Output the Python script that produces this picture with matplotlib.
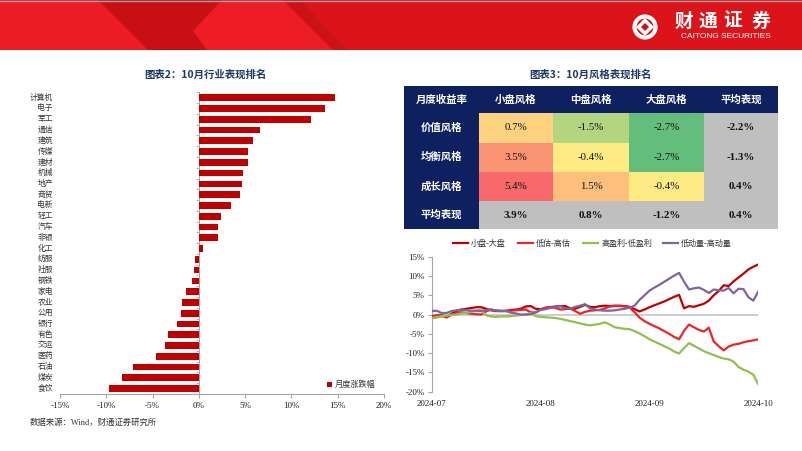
import matplotlib
matplotlib.use('Agg')
import matplotlib.pyplot as plt
import numpy as np
from matplotlib.patches import Rectangle, Polygon, Circle
from matplotlib.lines import Line2D
from matplotlib.transforms import blended_transform_factory

# ---------------- data ----------------
industries = ['计算机', '电子', '军工', '通信', '建筑', '传媒', '建材', '机械', '地产', '商贸',
              '电新', '轻工', '汽车', '非银', '化工', '纺服', '社服', '钢铁', '家电', '农业',
              '公用', '银行', '有色', '交运', '医药', '石油', '煤炭', '食饮']
industry_returns = [14.7, 13.6, 12.1, 6.6, 5.8, 5.3, 5.3, 4.8, 4.7, 4.4,
                    3.5, 2.4, 2.1, 2.1, 0.45, -0.45, -0.5, -0.76, -1.34, -1.84,
                    -1.95, -2.4, -3.3, -3.65, -4.6, -7.1, -8.3, -9.7]
bar_xticks = [-15, -10, -5, 0, 5, 10, 15, 20]

table_cols = ['月度收益率', '小盘风格', '中盘风格', '大盘风格', '平均表现']
table_rows = ['价值风格', '均衡风格', '成长风格', '平均表现']
table_values = [[0.7, -1.5, -2.7, -2.2],
                [3.5, -0.4, -2.7, -1.3],
                [5.4, 1.5, -0.4, 0.4],
                [3.9, 0.8, -1.2, 0.4]]

line_names = ['小盘-大盘', '低估-高估', '高盈利-低盈利', '低动量-高动量']
small_minus_large = [-0.9, -0.7, -0.4, -0.6, 0.2, 0.9, 1.3, 1.5, 1.7, 1.9, 1.9, 1.5, 1.1, 0.9, 0.9, 0.9, 1.2,
                     1.3, 1.5, 2.1, 2.2, 1.5, 1.4, 1.7, 1.9, 2.1, 2.2, 2.2, 1.6, 1.5, 2.0, 2.5, 2.0, 1.9,
                     2.2, 2.3, 2.2, 2.3, 2.3, 2.2, 2.0, 1.4, 0.8, 1.3, 1.9, 2.4, 2.9, 3.4, 4.0, 4.6, 5.1,
                     1.6, 2.2, 2.0, 2.4, 2.8, 3.6, 5.0, 6.1, 7.6, 7.4, 8.6, 9.6, 10.6, 11.7, 12.4, 13.0]
low_minus_high_val = [-0.4, -0.2, 0.0, -0.8, 0.0, 0.4, 0.6, 0.4, 0.2, 0.1, 0.0, 0.8, 1.3, 1.0, 0.9, 1.0, 1.0,
                      1.1, 1.2, 1.3, 0.6, 0.5, 1.3, 1.8, 2.0, 1.7, 1.3, 1.4, 1.5, 0.9, 0.2, 0.7, 1.0, 1.1,
                      1.2, 1.6, 2.1, 2.2, 2.2, 2.1, 1.8, 0.6, -0.8, -1.7, -2.4, -3.0, -3.6, -4.3, -5.0, -5.8, -6.4,
                      -4.2, -2.6, -3.3, -4.0, -4.4, -3.4, -7.0, -8.2, -9.3, -8.3, -7.8, -7.6, -7.2, -6.9, -6.7, -6.4]
high_minus_low_prof = [-0.9, -0.7, -0.4, -0.3, -0.1, 0.0, 0.3, 0.4, 0.7, 1.0, 1.2, -0.2, -0.5, -0.6, -0.5, -0.5, -0.4,
                       -0.3, -0.1, 0.0, 0.4, -0.4, -0.6, -0.7, -0.8, -0.9, -1.1, -1.4, -1.7, -2.0, -2.3, -2.6, -2.8, -2.6,
                       -2.4, -2.0, -2.6, -3.3, -3.5, -3.7, -3.8, -4.3, -4.9, -5.6, -6.4, -7.0, -7.6, -8.2, -8.8, -9.6, -10.1,
                       -8.7, -7.4, -8.1, -8.8, -9.5, -10.0, -10.5, -11.0, -11.4, -11.6, -12.2, -13.6, -14.3, -14.8, -15.6, -18.1]
low_minus_high_mom = [0.9, 1.0, 0.4, 0.4, 0.9, 1.1, 1.3, 1.1, 1.0, 1.0, 0.9, 1.2, 1.3, 1.1, 1.0, 0.9, 0.5,
                      0.3, 0.0, 0.0, 0.1, 0.6, 1.2, 1.4, 1.7, 1.9, 2.2, 1.6, 1.5, 2.0, 2.3, 2.7, 1.6, 1.3,
                      1.1, 1.0, 1.0, 1.1, 1.3, 1.5, 1.8, 2.3, 3.8, 5.0, 6.2, 7.0, 7.7, 8.5, 9.3, 10.1, 10.8,
                      8.5, 6.5, 6.8, 7.0, 6.4, 5.6, 6.5, 6.3, 6.2, 6.9, 5.5, 6.7, 6.6, 4.5, 3.6, 6.0]
date_tick_pos = [0, 22, 44, 66]
date_tick_labels = ['2024-07', '2024-08', '2024-09', '2024-10']
line_yticks = [-20, -15, -10, -5, 0, 5, 10, 15]

# ---------------- style ----------------
CJK = 'Noto Sans CJK SC'
SERIF = ['Liberation Serif', 'Noto Sans CJK SC']
NAVY = '#0E2060'
TITLE_C = '#1F3864'
GRAY_AX = '#A6A6A6'
line_colors = ['#C00000', '#E8262B', '#92C050', '#8064A2']

W, H = 802, 451
fig = plt.figure(figsize=(W / 100, H / 100), dpi=100)
fig.patch.set_facecolor('white')

ax_bg = fig.add_axes([0, 0, 1, 1], zorder=0)
ax_bg.set_axis_off()

# ---------------- banner ----------------
ax_bg.add_patch(Rectangle((0, 0), W, 50, color='#DC1419', lw=0))
ax_bg.add_patch(Polygon([(0, 0), (98, 0), (148, 50), (0, 50)], closed=True, color='#EC1C24', lw=0))
ax_bg.add_patch(Polygon([(98, 0), (222, 0), (193, 31), (207, 50), (148, 50)], closed=True, color='#C80F15', lw=0))
ax_bg.add_patch(Polygon([(222, 0), (283, 0), (333, 50), (207, 50), (193, 31)], closed=True, color='#EE1C24', lw=0))
ax_bg.add_patch(Polygon([(283, 0), (300, 0), (347, 50), (333, 50)], closed=True, color='#CC1219', lw=0))
clip = Polygon([(300, 0), (W, 0), (W, 50), (347, 50)], closed=True, transform=ax_bg.transData, fc='none', ec='none')
ax_bg.add_patch(clip)
grad = np.linspace(0, 1, 200)[None, :, None]
c0 = np.array([0.90, 0.08, 0.10]); c1 = np.array([0.78, 0.07, 0.10])
img = c0 * (1 - grad) + c1 * grad
im = ax_bg.imshow(img, extent=(300, W, 50, 0), aspect='auto', zorder=0.5)
im.set_clip_path(clip)
ax_bg.add_line(Line2D([0, W], [0.5, 0.5], color='#A0A0A0', lw=1))

# logo
ax_bg.add_patch(Circle((645, 27), 10.5, fill=False, ec='white', lw=3, zorder=2))
ax_bg.add_patch(Polygon([(645, 18), (654, 27), (645, 36), (636, 27)], closed=True, fc='white', ec='none', zorder=2))
ax_bg.add_patch(Polygon([(645, 23), (649, 27), (645, 31), (641, 27)], closed=True, fc='#CC1219', ec='none', zorder=3))
for ch, cx in zip('财通证券', [684, 708, 733, 761]):
    ax_bg.text(cx, 21, ch, color='white', fontsize=13.5, fontweight='bold', family=CJK, ha='center', va='center', zorder=3)
ax_bg.text(726, 37, 'CAITONG SECURITIES', color='white', fontsize=6, family='Liberation Sans', ha='center', va='center', zorder=3)

# ---------------- titles / footnote ----------------
ax_bg.text(205, 75, '图表2：10月行业表现排名', color=TITLE_C, fontsize=7.5, fontweight='bold', family=CJK, ha='center', va='center')
ax_bg.text(590, 75, '图表3：10月风格表现排名', color=TITLE_C, fontsize=7.5, fontweight='bold', family=CJK, ha='center', va='center')
ax_bg.text(30, 422.5, '数据来源：Wind，财通证券研究所', color='#333333', fontsize=6, family=SERIF, ha='left', va='center')

# ---------------- bar chart ----------------
ax1 = fig.add_axes([60 / W, 1 - 394 / H, 324 / W, 301.7 / H], zorder=1)
ax1.patch.set_alpha(0)
ypos = np.arange(len(industries))
ax1.barh(ypos, industry_returns, height=0.62, color='#C00000', zorder=3, label='月度涨跌幅')
ax1.set_xlim(-15, 20)
ax1.set_ylim(len(industries) - 0.5, -0.5)
ax1.spines['top'].set_visible(False)
ax1.spines['right'].set_visible(False)
ax1.spines['left'].set_position(('data', 0))
ax1.spines['left'].set_color(GRAY_AX)
ax1.spines['bottom'].set_color(GRAY_AX)
ax1.set_yticks([])
ax1.set_yticks(np.arange(-0.5, len(industries), 1), minor=True)
ax1.tick_params(axis='y', which='minor', length=2.5, color=GRAY_AX, direction='out')
ax1.set_xticks(bar_xticks)
ax1.set_xticklabels(['%d%%' % v for v in bar_xticks], fontsize=6.5, family=SERIF, color='#222222')
ax1.tick_params(axis='x', length=3, color=GRAY_AX, pad=3)
tr = blended_transform_factory(ax1.transAxes, ax1.transData)
for i, name in enumerate(industries):
    ax1.text(-0.022, i, name, transform=tr, ha='right', va='center', fontsize=5.6, family=CJK, color='#333333')
# legend
ax_bg.add_patch(Rectangle((327, 381.5), 5, 5, color='#C00000', lw=0))
ax_bg.text(335, 384, '月度涨跌幅', fontsize=5.9, family=CJK, color='#333333', ha='left', va='center')

# ---------------- table ----------------
col_edges = [404, 478.7, 553.3, 628.7, 704, 778]
row_edges = [86, 113.3, 142.5, 171.7, 201, 229]


def excel_scale(v, vmin, vmid, vmax):
    lo = np.array([99, 190, 123]); mid = np.array([255, 235, 132]); hi = np.array([248, 105, 107])
    if v <= vmid:
        t = (v - vmin) / (vmid - vmin) if vmax != vmin else 0
        c = lo + t * (mid - lo)
    else:
        t = (v - vmid) / (vmax - vmid)
        c = mid + t * (hi - mid)
    return tuple(c / 255)


grid = [table_values[r][c] for r in range(3) for c in range(3)]
vmin, vmid, vmax = min(grid), float(np.median(grid)), max(grid)

ax_bg.add_patch(Rectangle((col_edges[0], row_edges[0]), col_edges[-1] - col_edges[0], row_edges[1] - row_edges[0], color=NAVY, lw=0))
ax_bg.add_patch(Rectangle((col_edges[0], row_edges[1]), col_edges[1] - col_edges[0], row_edges[-1] - row_edges[1], color=NAVY, lw=0))
for c, name in enumerate(table_cols):
    ax_bg.text((col_edges[c] + col_edges[c + 1]) / 2, (row_edges[0] + row_edges[1]) / 2, name, color='white',
               fontsize=7.5, fontweight='bold', family=CJK, ha='center', va='center')
for r, name in enumerate(table_rows):
    yc = (row_edges[r + 1] + row_edges[r + 2]) / 2
    ax_bg.text((col_edges[0] + col_edges[1]) / 2, yc, name, color='white', fontsize=7.5, fontweight='bold',
               family=CJK, ha='center', va='center')
    for c in range(4):
        v = table_values[r][c]
        if r < 3 and c < 3:
            fc = excel_scale(v, vmin, vmid, vmax)
            bold = 'normal'
        else:
            fc = '#BFBFBF'
            bold = 'bold'
        x0, x1 = col_edges[c + 1], col_edges[c + 2]
        ax_bg.add_patch(Rectangle((x0, row_edges[r + 1]), x1 - x0, row_edges[r + 2] - row_edges[r + 1], color=fc, lw=0))
        ax_bg.text((x0 + x1) / 2, yc, '%.1f%%' % v, color='#111111', fontsize=7.8, fontweight=bold,
                   family=SERIF, ha='center', va='center')

# ---------------- line chart ----------------
ax2 = fig.add_axes([431.7 / W, 1 - 391.7 / H, 326.6 / W, 135 / H], zorder=1)
ax2.patch.set_alpha(0)
x = np.arange(len(small_minus_large))
series = [small_minus_large, low_minus_high_val, high_minus_low_prof, low_minus_high_mom]
ax2.axhline(0, color='#C8C8C8', lw=1.3, zorder=1)
for s, col, name in zip(series, line_colors, line_names):
    ax2.plot(x, s, color=col, lw=1.6, label=name, zorder=3, solid_joinstyle='round')
ax2.set_xlim(0, len(x) - 1)
ax2.set_ylim(-20, 15)
ax2.spines['top'].set_visible(False)
ax2.spines['right'].set_visible(False)
ax2.spines['bottom'].set_visible(False)
ax2.spines['left'].set_color(GRAY_AX)
ax2.set_yticks(line_yticks)
ax2.set_yticklabels(['%d%%' % v for v in line_yticks], fontsize=6.5, family=SERIF, color='#222222')
ax2.tick_params(axis='y', length=3, color=GRAY_AX, pad=2)
ax2.set_xticks(date_tick_pos)
ax2.set_xticklabels(date_tick_labels, fontsize=6.5, family=SERIF, color='#222222')
ax2.tick_params(axis='x', length=0, pad=6)

# legend (manual placement)
leg_x = [453, 518, 583, 663]
for lx, col, name in zip(leg_x, line_colors, line_names):
    ax_bg.add_line(Line2D([lx, lx + 15], [243, 243], color=col, lw=1.6))
    ax_bg.text(lx + 18, 243, name, fontsize=5.8, family=CJK, color='#333333', ha='left', va='center')

ax_bg.set_xlim(0, W)
ax_bg.set_ylim(H, 0)

fig.savefig('out.png', dpi=100)
